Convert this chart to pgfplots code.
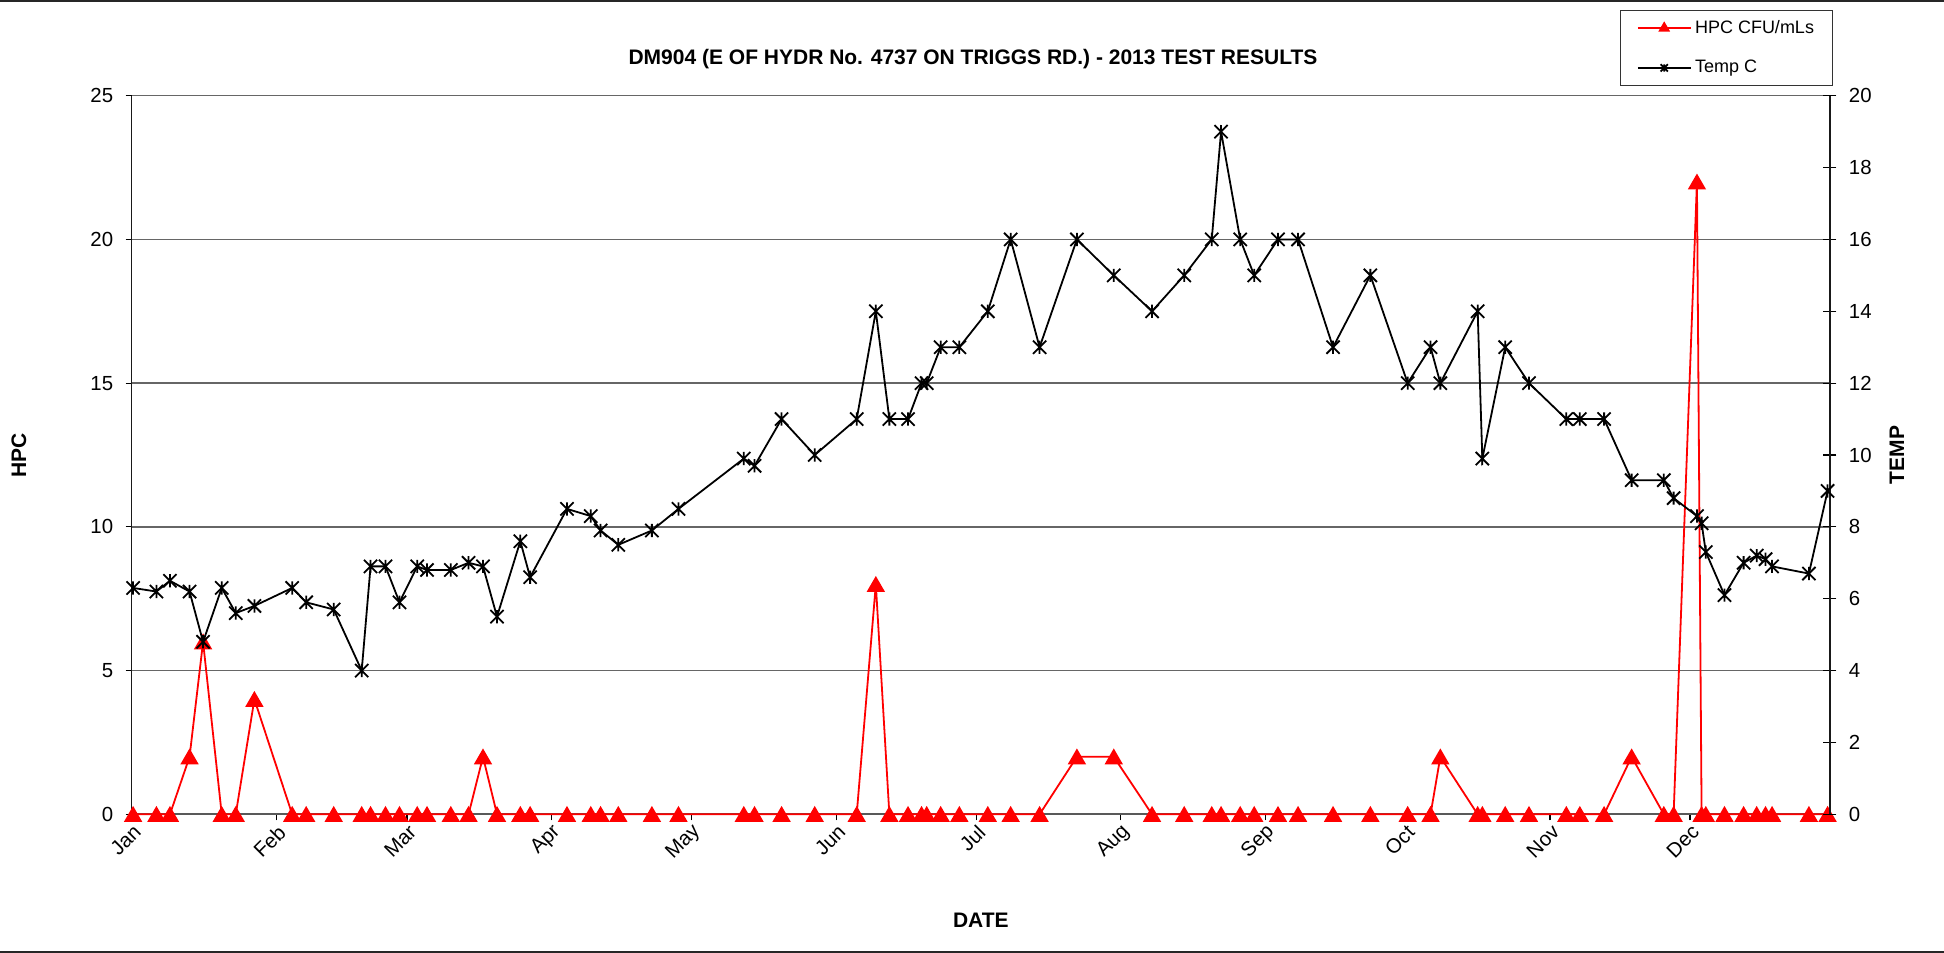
\documentclass[border=0pt]{standalone}
\usepackage{fontspec}
\setmainfont{Liberation Sans}
\usepackage{pgfplots}
\usepackage{pgfplotstable}
\pgfplotsset{compat=1.18}
\pgfplotsset{/pgf/number format/assume math mode=true}

\pgfdeclareplotmark{xstar}{%
  \pgfpathmoveto{\pgfqpoint{-\pgfplotmarksize}{-\pgfplotmarksize}}%
  \pgfpathlineto{\pgfqpoint{\pgfplotmarksize}{\pgfplotmarksize}}%
  \pgfpathmoveto{\pgfqpoint{-\pgfplotmarksize}{\pgfplotmarksize}}%
  \pgfpathlineto{\pgfqpoint{\pgfplotmarksize}{-\pgfplotmarksize}}%
  \pgfpathmoveto{\pgfqpoint{0pt}{-\pgfplotmarksize}}%
  \pgfpathlineto{\pgfqpoint{0pt}{\pgfplotmarksize}}%
  \pgfusepathqstroke}

\pgfplotstableread{
day hpc temp
0.3 0 6.3
5.3 0 6.2
8.2 0 6.5
12.4 2 6.2
15.3 6 4.8
19.3 0 6.3
22.3 0 5.6
26.3 4 5.8
34.4 0 6.3
37.4 0 5.9
43.3 0 5.7
49.3 0 4.0
51.2 0 6.9
54.4 0 6.9
57.4 0 5.9
61.2 0 6.9
63.3 0 6.8
68.4 0 6.8
72.2 0 7.0
75.3 2 6.9
78.3 0 5.5
83.3 0 7.6
85.4 0 6.6
93.3 0 8.5
98.4 0 8.3
100.5 0 7.9
104.3 0 7.5
111.5 0 7.9
117.2 0 8.5
131.2 0 9.9
133.5 0 9.7
139.3 0 11.0
146.4 0 10.0
155.4 0 11.0
159.5 8 14.0
162.4 0 11.0
166.4 0 11.0
169.3 0 12.0
170.4 0 12.0
173.4 0 13.0
177.4 0 13.0
183.5 0 14.0
188.4 0 16.0
194.6 0 13.0
202.6 2 16.0
210.5 2 15.0
218.7 0 14.0
225.6 0 15.0
231.5 0 16.0
233.5 0 19.0
237.6 0 16.0
240.6 0 15.0
245.7 0 16.0
250.0 0 16.0
257.5 0 13.0
265.5 0 15.0
273.5 0 12.0
278.4 0 13.0
280.5 2 12.0
288.5 0 14.0
289.5 0 9.9
294.4 0 13.0
299.5 0 12.0
307.5 0 11.0
310.4 0 11.0
315.6 0 11.0
321.5 2 9.3
328.4 0 9.3
330.5 0 8.8
335.5 22 8.3
336.5 0 8.1
337.4 0 7.3
341.4 0 6.1
345.5 0 7.0
348.3 0 7.2
350.2 0 7.1
351.6 0 6.9
359.5 0 6.7
363.5 0 9.0
}\data

\begin{document}
\begin{tikzpicture}
\useasboundingbox (0,0) rectangle (972pt,-476.5pt);
\fill[white] (0,0) rectangle (972pt,-476.5pt);
\draw[line width=1pt, black!85] (0,-0.5pt) -- (972pt,-0.5pt);
\draw[line width=1pt, black!85] (0,-476pt) -- (972pt,-476pt);
\begin{axis}[
  at={(65.85pt,-407.15pt)}, anchor=south west,
  scale only axis, width=849.1pt, height=359.3pt,
  xmin=0, xmax=364, ymin=0, ymax=25,
  axis y line*=left, axis x line*=bottom,
  xtick={0,31,59,90,120,151,181,212,243,273,304,334},
  xticklabels={Jan,Feb,Mar,Apr,May,Jun,Jul,Aug,Sep,Oct,Nov,Dec},
  ytick={0,5,10,15,20,25},
  ymajorgrids, grid style={black!60, line width=0.7pt},
  tick align=outside, major tick length=3pt,
  tick style={black, line width=0.6pt},
  x axis line style={black!65, line width=0.9pt, -},
  y axis line style={black!90, line width=0.7pt, -},
  ticklabel style={font=\fontsize{10.2}{12}\selectfont},
  xticklabel style={rotate=45, anchor=east, xshift=2.5pt, yshift=-5pt},
  yticklabel style={anchor=east, xshift=-2.75pt},
  ylabel={HPC},
  ylabel style={at={(axis description cs:-0.0665,0.5)}, anchor=center, font=\bfseries\fontsize{10.5}{12}\selectfont},
  xlabel={DATE},
  xlabel style={at={(axis description cs:0.5,-0.1471)}, anchor=center, font=\bfseries\fontsize{10.5}{12}\selectfont},
  title={DM904 (E OF HYDR No. 4737 ON TRIGGS RD.) - 2013 TEST RESULTS},
  title style={at={(axis description cs:0.4954,1.0343)}, anchor=center, font=\bfseries\fontsize{10.5}{12}\selectfont},
  clip=false,
]
\addplot[red, line width=0.9pt, mark=triangle*, mark size=4.4pt, mark options={solid, fill=red, yshift=-1.1pt}] table[x=day,y=hpc]{\data};
\end{axis}
\begin{axis}[
  at={(65.85pt,-407.15pt)}, anchor=south west,
  scale only axis, width=849.1pt, height=359.3pt,
  xmin=0, xmax=364, ymin=0, ymax=20,
  axis y line*=right, axis x line=none,
  ytick={0,2,...,20},
  tick align=center, major tick length=6.5pt,
  tick style={black, line width=0.6pt},
  y axis line style={black!90, line width=0.7pt, -},
  ticklabel style={font=\fontsize{10.2}{12}\selectfont},
  yticklabel style={anchor=west, xshift=2.75pt},
  ylabel={TEMP},
  ylabel style={at={(axis description cs:1.0395,0.5)}, anchor=center, font=\bfseries\fontsize{10.5}{12}\selectfont},
  clip=false,
  legend style={at={(0.8764,1.1193)}, anchor=north west, draw=black!80, line width=0.6pt, fill=white,
    font=\fontsize{9}{10.5}\selectfont, inner xsep=8.2pt, inner ysep=3.75pt, row sep=10pt,
    nodes={inner sep=1pt}, /tikz/every odd column/.append style={column sep=0.8pt}},
  legend cell align=left,
  legend image code/.code={\draw[mark repeat=2,mark phase=2,#1] plot coordinates {(0pt,0pt) (13.15pt,0pt) (26.3pt,0pt)};},
]
\addlegendimage{red, line width=0.9pt, mark=triangle*, mark size=2.5pt, mark options={solid, fill=red}}
\addlegendentry{HPC CFU/mLs}
\addlegendimage{black, line width=0.9pt, mark=xstar, mark size=1.8pt}
\addlegendentry{Temp C}
\addplot[black, line width=0.9pt, mark=xstar, mark size=3.3pt, forget plot] table[x=day,y=temp]{\data};
\end{axis}
\end{tikzpicture}
\end{document}
